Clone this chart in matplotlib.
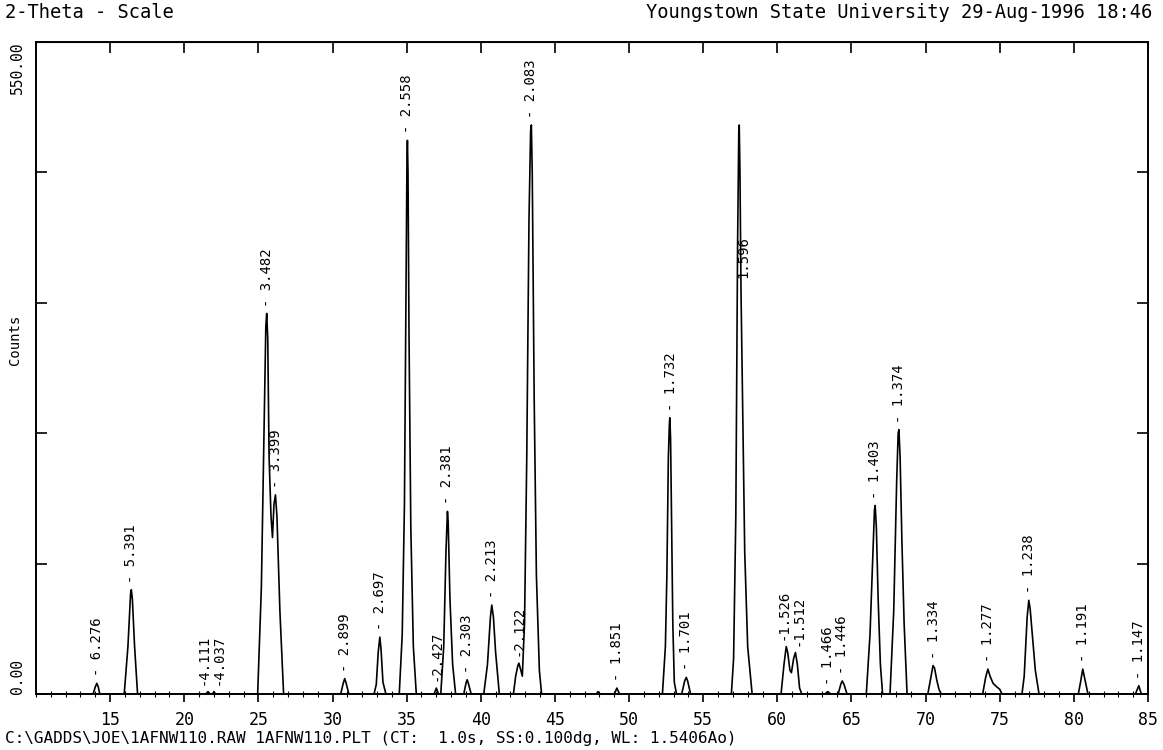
import matplotlib
matplotlib.use("Agg")
import matplotlib.pyplot as plt
from matplotlib.ticker import MultipleLocator

mono = "DejaVu Sans Mono"

# traced diffraction pattern (2-theta, counts), vertices
two_theta = [10.0,
             13.85, 14.0, 14.1, 14.2, 14.3,
             15.95, 16.2, 16.38, 16.43, 16.5, 16.65, 16.85,
             21.45, 21.6, 21.75, 21.9, 22.0, 22.1,
             24.95, 25.2, 25.4, 25.5, 25.56, 25.63, 25.72, 25.85, 25.95, 26.05, 26.15, 26.25, 26.45, 26.7,
             30.55, 30.72, 30.82, 30.92, 31.1,
             32.8, 32.95, 33.08, 33.19, 33.27, 33.4, 33.6,
             34.5, 34.7, 34.85, 34.95, 35.02, 35.05, 35.09, 35.16, 35.28, 35.45, 35.65,
             36.85, 37.0, 37.15,
             37.3, 37.5, 37.65, 37.75, 37.8, 37.92, 38.1, 38.3,
             38.85, 39.0, 39.08, 39.16, 39.35,
             40.2, 40.45, 40.65, 40.74, 40.85, 41.0, 41.25,
             42.2, 42.35, 42.5, 42.57, 42.7, 42.8, 42.95, 43.1, 43.25, 43.36, 43.41, 43.47, 43.6, 43.75, 43.95, 44.1,
             47.8, 47.9, 48.0,
             49.0, 49.18, 49.35,
             52.25, 52.45, 52.55, 52.65, 52.72, 52.75, 52.8, 52.88, 52.95, 53.05, 53.2,
             53.55, 53.75, 53.86, 53.95, 54.15,
             56.9, 57.05, 57.2, 57.32, 57.4, 57.43, 57.48, 57.55, 57.65, 57.8, 58.0, 58.3,
             60.25, 60.45, 60.6, 60.7, 60.85, 60.95, 61.1, 61.22, 61.35, 61.5, 61.65,
             63.2, 63.4, 63.6,
             64.1, 64.3, 64.38, 64.5, 64.7,
             66.0, 66.25, 66.45, 66.55, 66.6, 66.68, 66.8, 66.95, 67.1,
             67.6, 67.85, 68.05, 68.15, 68.2, 68.28, 68.4, 68.55, 68.75,
             70.15, 70.35, 70.5, 70.6, 70.75, 70.9, 71.05,
             73.85, 74.05, 74.2, 74.35, 74.55, 74.8, 75.0, 75.15,
             76.5, 76.65, 76.85, 76.96, 77.05, 77.2, 77.4, 77.65,
             80.3, 80.45, 80.6, 80.75, 80.95,
             84.15, 84.38, 84.55,
             85.0]
counts = [0,
          0, 6, 9, 6, 0,
          0, 40, 85, 88, 80, 40, 0,
          0, 2, 0, 0, 2, 0,
          0, 90, 240, 310, 321, 300, 200, 150, 132, 160, 168, 150, 70, 0,
          0, 9, 13, 9, 0,
          0, 8, 35, 48, 38, 10, 0,
          0, 50, 160, 330, 450, 467, 440, 300, 140, 40, 0,
          0, 5, 0,
          0, 40, 120, 154, 145, 80, 25, 0,
          0, 9, 12, 9, 0,
          0, 25, 65, 75, 65, 35, 0,
          0, 15, 24, 26, 20, 15, 60, 200, 400, 475, 480, 440, 250, 100, 20, 0,
          0, 2, 0,
          0, 5, 0,
          0, 40, 100, 200, 228, 233, 215, 130, 60, 10, 0,
          0, 11, 14, 11, 0,
          0, 30, 150, 380, 475, 480, 440, 340, 250, 120, 40, 0,
          0, 25, 40, 35, 20, 18, 30, 35, 25, 5, 0,
          0, 2, 0,
          0, 9, 11, 8, 0,
          0, 50, 120, 155, 159, 140, 80, 25, 0,
          0, 70, 180, 220, 223, 200, 130, 60, 0,
          0, 14, 24, 22, 12, 4, 0,
          0, 14, 21, 15, 9, 6, 4, 0,
          0, 15, 65, 79, 72, 50, 20, 0,
          0, 10, 21, 12, 0,
          0, 7, 0,
          0]

# d-spacing labels
d_labels = ["- 6.276", "- 5.391", "-4.111", "-4.037", "- 3.482", "- 3.399", "- 2.899",
            "- 2.697", "- 2.558", "-2.427", "- 2.381", "- 2.303", "- 2.213", "-2.122",
            "- 2.083", "- 1.851", "- 1.732", "- 1.701", "1.596", "-1.526", "-1.512",
            "- 1.466", "- 1.446", "- 1.403", "- 1.374", "- 1.334", "- 1.277", "- 1.238",
            "- 1.191", "- 1.147"]
label_x = [14.10, 16.43, 21.30, 22.30, 25.56, 26.20, 30.82, 33.19, 35.05, 37.01,
           37.75, 39.08, 40.74, 42.57, 43.41, 49.18, 52.82, 53.86, 57.71, 60.45,
           61.42, 63.40, 64.38, 66.60, 68.20, 70.54, 74.20, 76.96, 80.60, 84.38]
label_y = [9, 88, 2, 2, 321, 168, 13, 48, 467, 5,
           154, 12, 75, 26, 480, 5, 233, 14, 345, 40,
           35, 2, 11, 159, 223, 24, 21, 79, 21, 7]

x_ticks = [15, 20, 25, 30, 35, 40, 45, 50, 55, 60, 65, 70, 75, 80, 85]
y_ticks = [0, 110, 220, 330, 440, 550]
y_ticklabels = ["0.00", "", "", "", "", "550.00"]

fig = plt.figure(figsize=(11.63, 7.5), dpi=100)
ax = fig.add_axes([36 / 1163, 56 / 750, 1112 / 1163, 652 / 750])

ax.plot(two_theta, counts, color="black", lw=1.2)
ax.set_xlim(10, 85)
ax.set_ylim(0, 550)

for s in ax.spines.values():
    s.set_linewidth(1.4)

ax.set_xticks(x_ticks)
ax.set_xticklabels([str(t) for t in x_ticks], family=mono, fontsize=12)
ax.xaxis.set_minor_locator(MultipleLocator(1))
ax.tick_params(axis="x", which="major", direction="out", length=6, width=1.2, pad=6)
ax.tick_params(axis="x", which="minor", direction="inout", length=4, width=0.8)

top = ax.secondary_xaxis("top")
top.set_xticks(x_ticks)
top.tick_params(axis="x", direction="in", length=8, width=1.2, labeltop=False)

ax.set_yticks(y_ticks)
ax.set_yticklabels(y_ticklabels, family=mono, fontsize=10.5, rotation=90)
ax.tick_params(axis="y", direction="in", length=8, width=1.2, left=True, right=True, pad=8)
lbls = ax.get_yticklabels()
lbls[0].set_va("bottom")
lbls[-1].set_va("top")

ax.set_ylabel("Counts", family=mono, fontsize=10)
ax.yaxis.set_label_coords(-0.0125, 0.543)

for txt, x, y in zip(d_labels, label_x, label_y):
    ax.annotate(txt, xy=(x, y), xytext=(0, 5), textcoords="offset points",
                rotation=90, ha="center", va="bottom", family=mono, fontsize=10)

fig.text(5 / 1163, 1 - 13 / 750, "2-Theta - Scale", family=mono, fontsize=13.5,
         ha="left", va="center")
fig.text(1152 / 1163, 1 - 13 / 750, "Youngstown State University 29-Aug-1996 18:46",
         family=mono, fontsize=13.5, ha="right", va="center")
fig.text(5 / 1163, 1 - 739 / 750,
         "C:\\GADDS\\JOE\\1AFNW110.RAW 1AFNW110.PLT (CT:  1.0s, SS:0.100dg, WL: 1.5406Ao)",
         family=mono, fontsize=11.5, ha="left", va="center")

fig.savefig("out.png", dpi=100)
